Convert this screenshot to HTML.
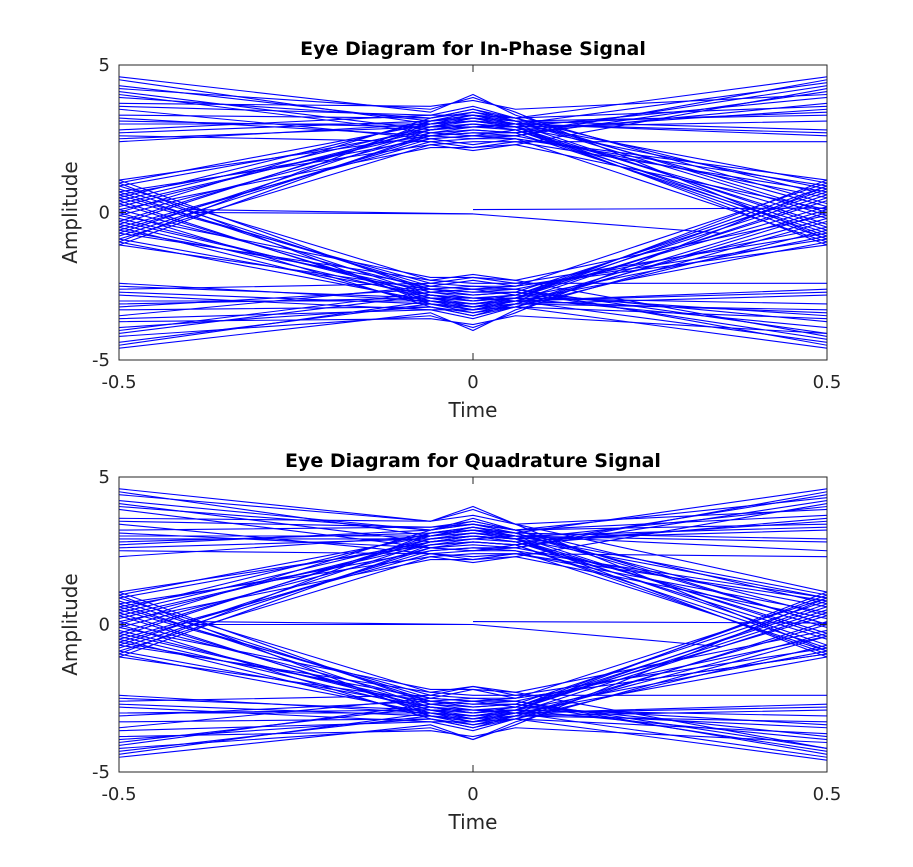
<!DOCTYPE html>
<html><head><meta charset="utf-8"><style>
body{margin:0;background:#fff;}
svg{display:block;font-family:"DejaVu Sans","Liberation Sans",sans-serif;}
</style></head><body>
<svg id="fig" width="913" height="867" viewBox="0 0 913 867"></svg>
<script>
// sample times of every trace
const timePoints = [-0.5,-0.06,0,0.06,0.5];
// In-phase traces (one row per trace, values at timePoints)
const inPhaseTraces = [
[4.6,3.4,4.0,3.3,0.3],[4.3,3.1,3.3,3.0,4.4],[4.0,2.7,2.6,2.8,-0.9],[3.7,3.6,3.8,3.5,4.0],
[3.5,2.5,2.3,2.5,1.1],[3.3,3.2,3.5,3.1,3.3],[3.1,2.9,2.9,2.9,-0.4],[2.8,3.3,3.6,3.2,4.6],
[2.6,2.4,2.2,2.4,0.7],[2.4,3.0,3.1,3.0,2.6],[1.1,2.6,2.7,2.7,3.7],[0.9,2.8,3.0,2.9,-1.1],
[0.7,2.3,2.1,2.3,0.1],[0.5,3.1,3.4,3.1,2.8],[0.3,2.7,2.8,2.7,-0.7],[0.1,2.2,2.2,2.3,4.2],
[-0.1,2.6,2.7,2.6,0.5],[-0.3,2.9,3.2,2.9,3.1],[-0.5,2.4,2.5,2.5,0.9],[-0.7,2.8,3.0,2.8,-0.2],
[-0.9,2.3,2.4,2.4,2.4],[-1.1,2.7,2.9,2.8,3.5],[4.2,3.5,3.9,3.4,-0.9],[3.0,3.0,3.1,3.0,1.0],
[3.9,3.2,3.4,3.2,0.0],[2.5,2.9,3.0,2.9,3.9],[0.2,2.8,3.0,2.8,-0.6],[-0.6,2.5,2.6,2.6,4.5],
[4.5,3.0,3.1,2.9,-0.8],[4.1,2.8,2.9,3.0,3.4],[3.6,3.3,3.3,3.2,0.6],[3.2,2.6,2.5,2.6,4.1],
[2.7,3.1,3.2,3.1,-0.1],[1.0,3.0,3.2,3.0,2.7],[0.6,2.5,2.6,2.5,-1.0],[0.0,3.2,3.5,3.2,3.6],
[-0.4,3.0,3.3,3.1,0.2],[-0.8,2.6,2.8,2.7,4.3],[-1.0,3.1,3.3,3.0,-0.5],[0.4,2.9,3.1,2.9,0.8],
[-4.6,-3.4,-4.0,-3.3,-0.3],[-4.4,-3.1,-3.3,-3.0,-4.4],[-4.0,-2.7,-2.6,-2.8,0.9],[-3.7,-3.6,-3.8,-3.5,-4.1],
[-3.5,-2.5,-2.3,-2.5,-1.1],[-3.3,-3.2,-3.5,-3.1,-3.3],[-3.1,-2.9,-2.9,-2.9,0.4],[-2.8,-3.3,-3.6,-3.2,-4.6],
[-2.6,-2.4,-2.2,-2.4,-0.7],[-2.4,-3.0,-3.1,-3.0,-2.6],[-1.1,-2.6,-2.7,-2.7,-3.7],[-0.9,-2.8,-3.0,-2.9,1.1],
[-0.7,-2.3,-2.1,-2.3,-0.1],[-0.5,-3.1,-3.4,-3.1,-2.8],[-0.3,-2.7,-2.8,-2.7,0.7],[-0.1,-2.2,-2.2,-2.3,-4.2],
[0.1,-2.6,-2.7,-2.6,-0.5],[0.3,-2.9,-3.2,-2.9,-3.1],[0.5,-2.4,-2.5,-2.5,-0.9],[0.7,-2.8,-3.0,-2.8,0.2],
[0.9,-2.3,-2.4,-2.4,-2.4],[1.1,-2.7,-2.9,-2.8,-3.5],[-4.2,-3.5,-3.9,-3.4,0.9],[-3.0,-3.0,-3.1,-3.0,-1.0],
[-3.9,-3.2,-3.4,-3.2,0.0],[-2.5,-2.9,-3.0,-2.9,-3.9],[-0.2,-2.8,-3.0,-2.8,0.6],[0.6,-2.5,-2.6,-2.6,-4.5],
[-4.5,-3.0,-3.1,-2.9,0.8],[-4.1,-2.8,-2.9,-3.0,-3.4],[-3.6,-3.3,-3.3,-3.2,-0.6],[-3.2,-2.6,-2.5,-2.6,-4.1],
[-2.7,-3.1,-3.2,-3.1,0.1],[-1.0,-3.0,-3.2,-3.0,-2.7],[-0.6,-2.5,-2.6,-2.5,1.0],[0.0,-3.2,-3.5,-3.2,-3.6],
[0.4,-3.0,-3.3,-3.1,-0.2],[0.8,-2.6,-2.8,-2.7,-4.3],[1.0,-3.1,-3.3,-3.0,0.5],[-0.4,-2.9,-3.1,-2.9,-0.8]
];
// Quadrature traces
const quadTraces = [
[4.6,3.5,4.0,3.4,1.1],[4.2,3.2,3.4,3.1,4.6],[3.9,2.6,2.5,2.7,-1.0],[3.6,3.5,3.7,3.4,3.9],
[3.4,2.4,2.2,2.4,0.4],[3.2,3.3,3.5,3.2,3.4],[2.9,2.9,3.0,2.9,-0.3],[2.7,3.2,3.6,3.2,4.3],
[2.5,2.4,2.3,2.4,0.8],[2.3,3.0,3.2,3.0,2.5],[1.1,2.7,2.8,2.7,3.6],[0.9,2.8,3.0,2.9,-1.1],
[0.7,2.3,2.1,2.3,0.2],[0.5,3.1,3.3,3.1,2.9],[0.3,2.7,2.8,2.7,-0.8],[0.1,2.2,2.2,2.3,4.1],
[-0.1,2.6,2.7,2.6,0.6],[-0.3,2.9,3.1,2.9,3.2],[-0.5,2.4,2.5,2.5,0.9],[-0.7,2.8,3.0,2.8,-0.1],
[-0.9,2.3,2.4,2.4,2.3],[-1.1,2.7,2.9,2.8,3.5],[4.4,3.5,3.9,3.4,-0.9],[3.0,3.0,3.1,3.0,1.0],
[4.0,3.2,3.4,3.2,0.0],[2.6,2.9,3.0,2.9,4.0],[0.2,2.8,3.0,2.8,-0.5],[-0.6,2.5,2.6,2.6,4.5],
[4.5,3.0,3.2,2.9,-0.7],[4.1,2.8,2.9,3.0,3.3],[3.5,3.3,3.4,3.2,0.7],[3.1,2.6,2.5,2.6,4.2],
[2.8,3.1,3.2,3.1,0.0],[1.0,3.0,3.2,3.0,2.8],[0.6,2.5,2.6,2.5,-0.9],[0.0,3.2,3.5,3.2,3.7],
[-0.4,3.0,3.3,3.1,0.3],[-0.8,2.6,2.8,2.7,4.4],[-1.0,3.1,3.3,3.0,-0.4],[0.4,2.9,3.1,2.9,0.9],
[-4.5,-3.4,-3.9,-3.3,-0.4],[-4.3,-3.1,-3.3,-3.0,-4.5],[-4.1,-2.7,-2.6,-2.8,1.0],[-3.8,-3.6,-3.8,-3.5,-4.0],
[-3.5,-2.5,-2.2,-2.5,-1.0],[-3.3,-3.2,-3.5,-3.1,-3.3],[-3.0,-2.9,-2.9,-2.9,0.5],[-2.8,-3.3,-3.6,-3.2,-4.6],
[-2.6,-2.4,-2.1,-2.4,-0.8],[-2.4,-3.0,-3.1,-3.0,-2.7],[-1.1,-2.6,-2.7,-2.7,-3.8],[-0.9,-2.8,-3.0,-2.9,1.1],
[-0.7,-2.3,-2.1,-2.3,-0.2],[-0.5,-3.1,-3.4,-3.1,-2.9],[-0.3,-2.7,-2.8,-2.7,0.8],[-0.1,-2.2,-2.2,-2.3,-4.2],
[0.1,-2.6,-2.7,-2.6,-0.4],[0.3,-2.9,-3.2,-2.9,-3.1],[0.5,-2.4,-2.5,-2.5,-1.0],[0.7,-2.8,-3.0,-2.8,0.3],
[0.9,-2.3,-2.4,-2.4,-2.4],[1.1,-2.7,-2.9,-2.8,-3.4],[-4.2,-3.5,-3.9,-3.4,0.9],[-3.0,-3.0,-3.1,-3.0,-1.1],
[-3.9,-3.2,-3.4,-3.2,0.1],[-2.5,-2.9,-3.0,-2.9,-3.9],[-0.2,-2.8,-3.0,-2.8,0.6],[0.6,-2.5,-2.6,-2.6,-4.4],
[-4.4,-3.0,-3.1,-2.9,0.7],[-4.0,-2.8,-2.9,-3.0,-3.5],[-3.6,-3.3,-3.3,-3.2,-0.7],[-3.1,-2.6,-2.5,-2.6,-4.2],
[-2.7,-3.1,-3.2,-3.1,0.0],[-1.0,-3.0,-3.2,-3.0,-2.8],[-0.6,-2.5,-2.6,-2.5,0.9],[0.0,-3.2,-3.5,-3.2,-3.7],
[0.4,-3.0,-3.3,-3.1,-0.3],[0.8,-2.6,-2.8,-2.7,-4.3],[1.0,-3.1,-3.3,-3.0,0.4],[-0.4,-2.9,-3.1,-2.9,-0.9]
];
// Near-zero stray traces: [t0,v0,t1,v1]
const inPhaseStray = [[-0.4,0.1,0,-0.05],[-0.4,0.0,0,-0.05],[0,0.1,0.5,0.15],[0,-0.05,0.35,-0.7]];
const quadStray = [[-0.4,0.1,0,0.0],[-0.4,0.0,0,0.0],[0,0.1,0.5,0.05],[0,0.0,0.35,-0.75]];
const yTicks = [-5,0,5];
const xTicks = [-0.5,0,0.5];

const NS="http://www.w3.org/2000/svg";
const svg=document.getElementById('fig');
function mk(tag,attrs,parent){const e=document.createElementNS(NS,tag);for(const k in attrs)e.setAttribute(k,attrs[k]);(parent||svg).appendChild(e);return e;}

function panel(top,title,traces,stray,key){
  const x0=119,x1=827,y0=top,y1=top+295;
  const sx=v=>x0+(v+0.5)*(x1-x0);
  const sy=v=>y1-(v+5)/10*(y1-y0);
  const g=mk('g',{});
  
  
  const cp=mk('clipPath',{id:key+'clip'},g);mk('rect',{x:x0,y:y0,width:x1-x0,height:y1-y0},cp);
  const lines=mk('g',{'clip-path':'url(#'+key+'clip)'},g);
  
  
  traces.forEach(tr=>{
    const pts=tr.map((v,i)=>sx(timePoints[i])+','+sy(v)).join(' ');
    const p=mk('polyline',{points:pts,fill:'none',stroke:'#0000ff','stroke-width':1.1},lines);
    
    
  });
  stray.forEach(s=>{
    const p=mk('line',{x1:sx(s[0]),y1:sy(s[1]),x2:sx(s[2]),y2:sy(s[3]),stroke:'#0000ff','stroke-width':1.1},lines);
    
    
  });
  mk('rect',{x:x0,y:y0,width:x1-x0,height:y1-y0,fill:'none',stroke:'#262626','stroke-width':1},g);
  yTicks.forEach(v=>{
    mk('line',{x1:x0,y1:sy(v),x2:x0+7,y2:sy(v),stroke:'#262626'},g);
    mk('line',{x1:x1,y1:sy(v),x2:x1-7,y2:sy(v),stroke:'#262626'},g);
    const t=mk('text',{x:x0-9,y:sy(v)+6,'text-anchor':'end','font-size':18,fill:'#262626'},g);t.textContent=v;
    
    
  });
  xTicks.forEach(v=>{
    mk('line',{x1:sx(v),y1:y1,x2:sx(v),y2:y1-7,stroke:'#262626'},g);
    mk('line',{x1:sx(v),y1:y0,x2:sx(v),y2:y0+7,stroke:'#262626'},g);
    const t=mk('text',{x:sx(v),y:y1+28,'text-anchor':'middle','font-size':18,fill:'#262626'},g);t.textContent=v;
    
    
  });
  const tt=mk('text',{x:(x0+x1)/2,y:y0-10,'text-anchor':'middle','font-size':19,'font-weight':'bold',fill:'#000'},g);tt.textContent=title;
  
  
  const xl=mk('text',{x:(x0+x1)/2,y:y1+57,'text-anchor':'middle','font-size':20,fill:'#262626'},g);xl.textContent='Time';
  
  
  const yl=mk('text',{x:0,y:0,'text-anchor':'middle','font-size':20,fill:'#262626',transform:`translate(77,${(y0+y1)/2}) rotate(-90)`},g);yl.textContent='Amplitude';
  
  
}
panel(65,'Eye Diagram for In-Phase Signal',inPhaseTraces,inPhaseStray,'in-phase');
panel(477,'Eye Diagram for Quadrature Signal',quadTraces,quadStray,'quadrature');
</script>
</body></html>
